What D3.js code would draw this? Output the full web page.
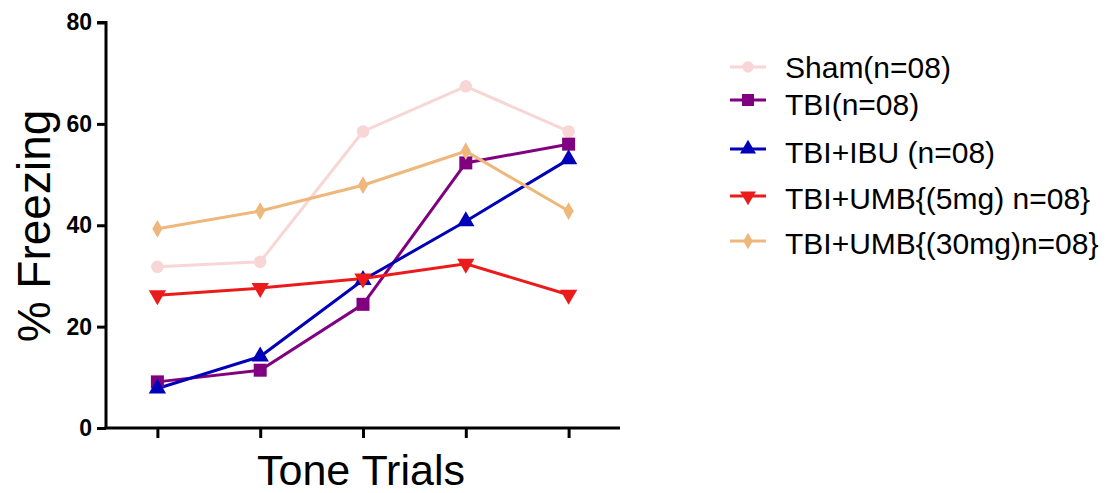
<!DOCTYPE html>
<html><head><meta charset="utf-8">
<script src="https://cdn.jsdelivr.net/npm/d3@7"></script>
<style>body{margin:0;background:#fff}svg{display:block}text{font-family:"Liberation Sans",Arial,sans-serif}</style>
</head><body>
<svg id="chart" width="1114" height="493"></svg>
<script>
const trials = ["1","2","3","4","5"];
const yTicks = [0,20,40,60,80];
const seriesNames = ["Sham(n=08)","TBI(n=08)","TBI+IBU (n=08)","TBI+UMB{(5mg) n=08}","TBI+UMB{(30mg)n=08}"];
const sham = [31.8,32.8,58.5,67.4,58.5];
const tbi = [9.1,11.4,24.4,52.3,56.0];
const tbiIbu = [7.8,14.1,29.2,40.8,53.0];
const umb5 = [26.2,27.6,29.5,32.4,26.3];
const umb30 = [39.3,42.8,47.9,54.6,42.8];
const colors = ["#F8D6D6","#800080","#0000B8","#EC1B1B","#EEB77C"];
const symbols = [d3.symbolCircle,d3.symbolSquare,d3.symbolTriangle,"down",d3.symbolDiamond];

const series = [sham,tbi,tbiIbu,umb5,umb30].map((v,i)=>({name:seriesNames[i],values:v,color:colors[i],sym:symbols[i]}));

const svg = d3.select("#chart");
const x = d3.scalePoint().domain(trials).range([106,620]).padding(0.5);
const y = d3.scaleLinear().domain([0,80]).range([428,22.5]);

function marker(g, s, size){
  if(s.sym==="down"){
    g.append("path").attr("d", d3.symbol(d3.symbolTriangle).size(size)()).attr("transform","rotate(180)").attr("fill",s.color);
  } else {
    let sz = size;
    if(s.sym===d3.symbolCircle) sz=size*0.95;
    if(s.sym===d3.symbolDiamond) sz=size*0.7;
    if(s.sym===d3.symbolSquare) sz=size*1.3;
    g.append("path").attr("d", d3.symbol(s.sym).size(sz)()).attr("fill",s.color);
  }
}

const line = d3.line().x((d,i)=>x(trials[i])).y(d=>y(d));
series.forEach(s=>{
  svg.append("path").attr("d",line(s.values)).attr("fill","none").attr("stroke",s.color).attr("stroke-width",3);
});
series.forEach(s=>{
  s.values.forEach((v,i)=>{
    const g = svg.append("g").attr("transform",`translate(${x(trials[i])},${y(v)})`);
    marker(g,s,130);
  });
});

const yAxis = d3.axisLeft(y).tickValues(yTicks).tickSize(9).tickPadding(5).tickSizeOuter(0);
const gy = svg.append("g").attr("transform","translate(106,0)").call(yAxis);
gy.select(".domain").attr("stroke","#000").attr("stroke-width",3).attr("d","M-9,22.5H0V428");
gy.selectAll(".tick line").attr("stroke","#000").attr("stroke-width",3);
gy.selectAll(".tick text").attr("font-size",23).attr("font-weight","bold").attr("fill","#000").attr("font-family","'Liberation Sans',Arial,sans-serif");

const xAxis = d3.axisBottom(x).tickSize(10).tickFormat("").tickSizeOuter(0);
const gx = svg.append("g").attr("transform","translate(0,428)").call(xAxis);
gx.select(".domain").attr("stroke","#000").attr("stroke-width",3).attr("d","M104.5,0H620");
gx.selectAll(".tick line").attr("stroke","#000").attr("stroke-width",3);

svg.append("text").attr("transform","translate(50,226) rotate(-90)").attr("text-anchor","middle").attr("font-size",46).attr("fill","#000").text("% Freezing");
svg.append("text").attr("x",361).attr("y",485).attr("text-anchor","middle").attr("font-size",43).attr("fill","#000").text("Tone Trials");

const legY = [67,100,149,196,241];
const legTextOff = [0,4,3,2,2];
series.forEach((s,i)=>{
  const g = svg.append("g").attr("transform",`translate(0,${legY[i]})`);
  g.append("line").attr("x1",730).attr("x2",766).attr("y1",0).attr("y2",0).attr("stroke",s.color).attr("stroke-width",3);
  const m = g.append("g").attr("transform","translate(748,0)");
  marker(m,s,110);
  g.append("text").attr("x",785).attr("y",legTextOff[i]).attr("dy","0.36em").attr("font-size",30).attr("fill","#000").text(s.name);
});
</script>
</body></html>
